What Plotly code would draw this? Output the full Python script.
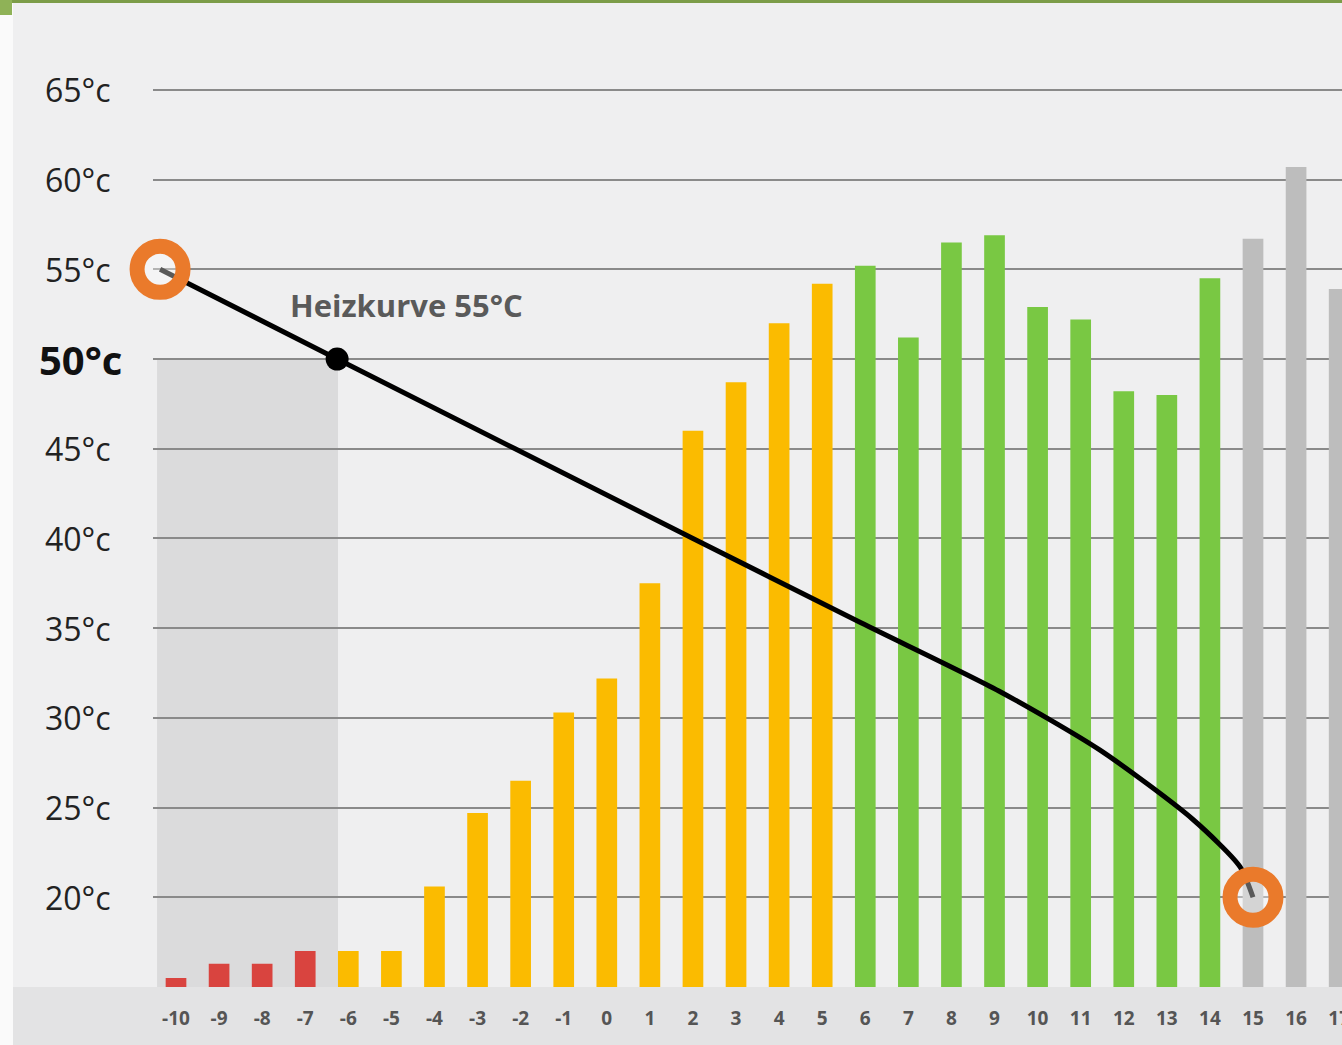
import plotly.graph_objects as go

# Outdoor temperature (°C) on the x axis and measured flow temperature per bin
outdoor_temps = list(range(-10, 18))
flow_temps = [15.5, 16.3, 16.3, 17.0, 17.0, 17.0, 20.6, 24.7, 26.5, 30.3,
              32.2, 37.5, 46.0, 48.7, 52.0, 54.2, 55.2, 51.2, 56.5, 56.9,
              52.9, 52.2, 48.2, 48.0, 54.5, 56.7, 60.7, 53.9]

# Colour group of each bar
bar_groups = (["kalt"] * 4 + ["mild"] * 12 + ["warm"] * 9 + ["aus"] * 3)
group_colors = {"kalt": "#d9443f", "mild": "#fbbb00", "warm": "#79c843", "aus": "#bdbdbd"}

# Heating curve (Heizkurve 55 °C)
curve_x = [-10.37, -6.26, 2.0, 5.9, 9.1, 11.45, 13.6, 14.7, 15.0]
curve_y = [55.0, 50.0, 40.0, 35.3, 31.5, 28.2, 24.35, 21.7, 20.0]
curve_label = "Heizkurve 55°C"

# Y axis labels
y_ticks = [20, 25, 30, 35, 40, 45, 50, 55, 60, 65]
y_tick_text = [f"{v}°c" for v in y_ticks]
highlight_tick = 50

W, H = 1342, 1045
L, R, T, B = 153, 0, 54, 58
PW, PH = W - L - R, H - T - B


def px_x(p):
    return (p - L) / PW


def px_y(p):
    return 1 - (p - T) / PH


fig = go.Figure()

fig.add_trace(go.Bar(
    x=outdoor_temps, y=flow_temps, width=0.48,
    marker=dict(color=[group_colors[g] for g in bar_groups], line=dict(width=0)),
    hoverinfo="x+y",
))

fig.add_trace(go.Scatter(
    x=curve_x, y=curve_y, mode="lines",
    line=dict(color="#000000", width=5, shape="spline", smoothing=0.7),
    hoverinfo="skip", cliponaxis=False,
))

# Point where the curve crosses 50 °C
fig.add_trace(go.Scatter(
    x=[curve_x[1]], y=[curve_y[1]], mode="markers",
    marker=dict(color="#000000", size=23),
    hoverinfo="skip",
))

# Rings at start and end of the curve
fig.add_trace(go.Scatter(
    x=[curve_x[0], curve_x[-1]], y=[curve_y[0], curve_y[-1]], mode="markers",
    marker=dict(color="rgba(255,255,255,0.35)", size=46,
                line=dict(color="#ea7a2b", width=15)),
    hoverinfo="skip", cliponaxis=False,
))

shapes = [
    # shaded region up to 50 °C on the cold side
    dict(type="rect", xref="x", yref="y", x0=-10.44, x1=-6.24, y0=15, y1=highlight_tick,
         fillcolor="rgba(170,170,170,0.28)", line=dict(width=0), layer="below"),
    # band under the x axis
    dict(type="rect", xref="paper", yref="paper", x0=px_x(0), x1=px_x(W), y0=px_y(H), y1=px_y(987),
         fillcolor="rgba(190,190,190,0.25)", line=dict(width=0), layer="below"),
    # white strip at the left edge
    dict(type="rect", xref="paper", yref="paper", x0=px_x(0), x1=px_x(13), y0=px_y(H), y1=px_y(0),
         fillcolor="#fafafa", line=dict(width=0), layer="below"),
    # green header line
    dict(type="rect", xref="paper", yref="paper", x0=px_x(0), x1=px_x(W), y0=px_y(3), y1=px_y(0),
         fillcolor="#7c9c48", line=dict(width=0), layer="above"),
    dict(type="rect", xref="paper", yref="paper", x0=px_x(0), x1=px_x(12), y0=px_y(15), y1=px_y(0),
         fillcolor="#8fb257", line=dict(width=0), layer="above"),
]

annotations = [
    dict(x=-4.64, y=53.0, xref="x", yref="y", text=f"<b>{curve_label}</b>", showarrow=False,
         font=dict(family="Open Sans", size=31, color="#5a5a5a"), xanchor="center", yanchor="middle"),
]
for v, t in zip(y_ticks, y_tick_text):
    big = v == highlight_tick
    annotations.append(dict(
        x=px_x(37 if big else 43), y=v, xref="paper", yref="y",
        text=f"<b>{t}</b>" if big else t, showarrow=False,
        font=dict(family="Open Sans", size=40 if big else 32, color="#111111" if big else "#222222"),
        xanchor="left", yanchor="middle",
    ))

fig.update_layout(
    width=W, height=H,
    margin=dict(l=L, r=R, t=T, b=B, pad=0, autoexpand=False),
    paper_bgcolor="#efeff0", plot_bgcolor="rgba(0,0,0,0)",
    showlegend=False,
    shapes=shapes, annotations=annotations,
    xaxis=dict(range=[-10.534, 17.066], tickvals=outdoor_temps,
               ticktext=[str(t) for t in outdoor_temps],
               showgrid=False, zeroline=False, showline=False, ticks="",
               automargin=False,
               ticklabelstandoff=18, ticklabeloverflow="allow",
               tickfont=dict(family="Open Sans", size=19, color="#555555", weight="bold")),
    yaxis=dict(range=[15, 67], tickvals=y_ticks, showticklabels=False,
               showgrid=True, gridcolor="#8a8a8a", gridwidth=2,
               zeroline=False, showline=False, ticks="", automargin=False),
)

fig.write_html("out.html")
